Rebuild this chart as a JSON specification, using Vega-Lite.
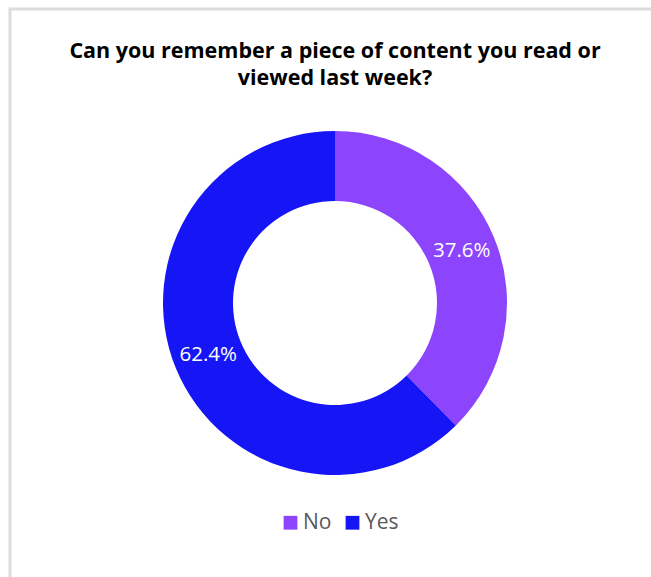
{
  "$schema": "https://vega.github.io/schema/vega-lite/v6.json",
  "autosize": {"type": "none"},
  "width": 650,
  "height": 588,
  "padding": {"left": 10, "top": 9, "right": 0, "bottom": 0},
  "background": "white",
  "view": {"stroke": "#dcdcdc", "strokeWidth": 3, "fill": "white"},
  "config": {
    "view": {"stroke": "#dcdcdc", "strokeWidth": 3},
    "style": {"cell": {"stroke": "#dcdcdc", "strokeWidth": 3}},
    "font": "Open Sans"
  },
  "title": {
    "text": ["Can you remember a piece of content you read or", "viewed last week?"],
    "anchor": "middle",
    "frame": "group",
    "font": "Open Sans",
    "fontSize": 21.5,
    "fontWeight": "bold",
    "color": "#000000",
    "lineHeight": 27,
    "offset": -80
  },
  "data": {
    "values": [
      {"answer": "No", "share": 37.6, "label": "37.6%"},
      {"answer": "Yes", "share": 62.4, "label": "62.4%"}
    ]
  },
  "encoding": {
    "theta": {"field": "share", "type": "quantitative", "stack": true},
    "color": {
      "field": "answer",
      "type": "nominal",
      "scale": {"domain": ["No", "Yes"], "range": ["#8c45fd", "#1515f5"]},
      "legend": {
        "title": null,
        "orient": "none",
        "direction": "horizontal",
        "legendX": 270,
        "legendY": 503,
        "symbolType": "square",
        "symbolSize": 190,
        "symbolStrokeWidth": 0,
        "labelFont": "Open Sans",
        "labelFontSize": 21,
        "labelColor": "#595959",
        "labelOffset": 2,
        "columnPadding": 10
      }
    }
  },
  "layer": [
    {"mark": {"type": "arc", "innerRadius": 102, "outerRadius": 172}},
    {
      "mark": {"type": "text", "radius": 137, "fontSize": 20.5, "font": "Open Sans", "color": "white"},
      "encoding": {"text": {"field": "label"}, "color": {"value": "white"}}
    }
  ]
}
